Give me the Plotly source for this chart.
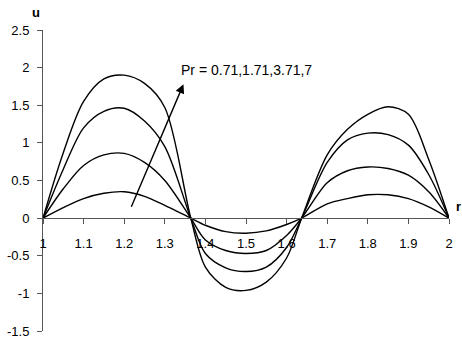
import plotly.graph_objects as go

# radial positions (r) and velocity profiles u(r) for each Prandtl number
r = [1.0, 1.05, 1.1, 1.15, 1.2, 1.25, 1.3, 1.364, 1.4, 1.45, 1.5, 1.55, 1.6,
     1.637, 1.7, 1.75, 1.8, 1.85, 1.9, 1.95, 2.0]
u_pr071 = [0, 0.14, 0.26, 0.33, 0.35, 0.29, 0.17, 0, -0.095, -0.18, -0.20, -0.17,
           -0.085, 0, 0.19, 0.26, 0.31, 0.31, 0.26, 0.15, 0]
u_pr171 = [0, 0.39, 0.70, 0.84, 0.86, 0.74, 0.50, 0, -0.29, -0.43, -0.47, -0.43,
           -0.23, 0, 0.47, 0.63, 0.68, 0.66, 0.57, 0.35, 0]
u_pr371 = [0, 0.65, 1.20, 1.42, 1.46, 1.29, 0.95, 0, -0.47, -0.66, -0.71, -0.65,
           -0.39, 0, 0.74, 1.04, 1.13, 1.11, 0.97, 0.58, 0]
u_pr7 = [0, 0.87, 1.55, 1.85, 1.90, 1.79, 1.47, 0, -0.65, -0.92, -0.96, -0.85,
         -0.53, 0, 0.84, 1.18, 1.38, 1.48, 1.38, 0.78, 0]

x_ticks = [1, 1.1, 1.2, 1.3, 1.4, 1.5, 1.6, 1.7, 1.8, 1.9, 2]
x_tick_text = ["1", "1.1", "1.2", "1.3", "1.4", "1.5", "1.6", "1.7", "1.8", "1.9", "2"]
y_ticks = [-1.5, -1, -0.5, 0, 0.5, 1, 1.5, 2, 2.5]
y_tick_text = ["-1.5", "-1", "-0.5", "0", "0.5", "1", "1.5", "2", "2.5"]

label_text = "Pr = 0.71,1.71,3.71,7"
arrow_tail = (1.216, 0.13)
arrow_head = (1.346, 1.78)

FONT = "Liberation Sans, Arial, sans-serif"
AXIS_COLOR = "#555555"

# plot area in pixels
W, H = 462, 341
ML, MR, MT, MB = 43, 13, 30, 10
PW, PH = W - ML - MR, H - MT - MB

fig = go.Figure()
for u in (u_pr071, u_pr171, u_pr371, u_pr7):
    fig.add_trace(go.Scatter(
        x=r, y=u, mode="lines",
        line=dict(color="black", width=1.4, shape="spline", smoothing=0.9),
        hoverinfo="skip", showlegend=False,
    ))

fig.update_layout(
    width=W, height=H,
    margin=dict(l=ML, r=MR, t=MT, b=MB, autoexpand=False),
    paper_bgcolor="white", plot_bgcolor="white",
    font=dict(family=FONT, size=13, color="black"),
    showlegend=False,
    xaxis=dict(
        range=[1, 2], tickvals=x_ticks, ticktext=x_tick_text,
        anchor="free", position=0.375, automargin=False,
        showline=True, linecolor=AXIS_COLOR, linewidth=1,
        ticks="outside", ticklen=5, tickcolor=AXIS_COLOR, tickwidth=1,
        ticklabelstandoff=8,
        showgrid=False, zeroline=False,
        tickfont=dict(family=FONT, size=13, color="black"),
    ),
    yaxis=dict(
        range=[-1.5, 2.5], tickvals=y_ticks, ticktext=y_tick_text,
        automargin=False,
        showline=True, linecolor=AXIS_COLOR, linewidth=1,
        ticks="outside", ticklen=5, tickcolor=AXIS_COLOR, tickwidth=1,
        ticklabelstandoff=5,
        showgrid=False, zeroline=False,
        tickfont=dict(family=FONT, size=13, color="black"),
    ),
)

# arrow pointing towards increasing Pr
fig.add_annotation(
    x=arrow_head[0], y=arrow_head[1], ax=arrow_tail[0], ay=arrow_tail[1],
    xref="x", yref="y", axref="x", ayref="y",
    text="", showarrow=True, arrowhead=2, arrowsize=1.3, arrowwidth=1.4,
    arrowcolor="black", standoff=0, startstandoff=0,
)
fig.add_annotation(
    x=1.336, y=1.965, xref="x", yref="y", text=label_text,
    showarrow=False, xanchor="left", yanchor="middle",
    font=dict(family=FONT, size=14, color="black"),
)

# axis titles
fig.add_annotation(
    x=(36 - ML) / PW, y=1 + (MT - 13) / PH, xref="paper", yref="paper",
    text="<b>u</b>", showarrow=False, xanchor="center", yanchor="middle",
    font=dict(family=FONT, size=13, color="black"),
)
fig.add_annotation(
    x=(454 - ML) / PW, y=1 - (206 - MT) / PH, xref="paper", yref="paper",
    text="<b>r</b>", showarrow=False, xanchor="left", yanchor="middle",
    font=dict(family=FONT, size=13, color="black"),
)

fig.write_html("out.html")
